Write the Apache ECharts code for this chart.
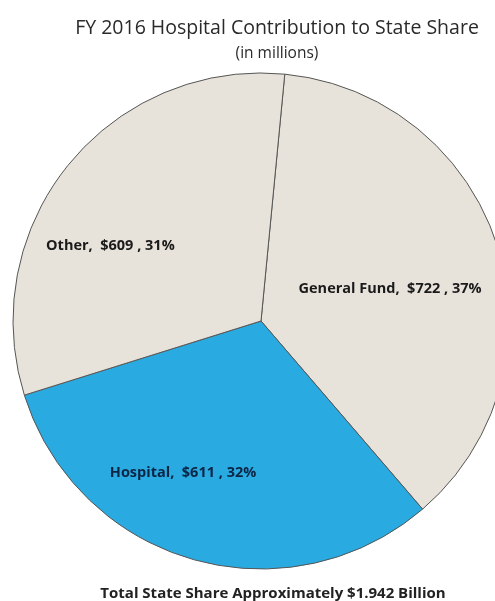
<!DOCTYPE html>
<html>
<head>
<meta charset="utf-8">
<script src="https://cdn.jsdelivr.net/npm/echarts@6/dist/echarts.min.js"></script>
<style>
  html, body { margin: 0; padding: 0; background: #fff; }
  #chart { width: 495px; height: 601px; }
</style>
</head>
<body>
<div id="chart"></div>
<script>
  // values in millions
  let names = ['General Fund', 'Hospital', 'Other']
  let values = [722, 611, 609]
  let percents = [37, 32, 31]
  let colors = ['#e7e3da', '#29abe2', '#e7e3da']
  let labelColors = ['#1a1a1a', '#0b2545', '#1a1a1a']
  let labelOffsets = [[8, 6], [-43, 30], [-52, 5]]

  let chart = echarts.init(document.getElementById('chart'))

  let seriesData = []
  names.forEach((n, i) => {
    seriesData.push({
      name: n,
      value: values[i],
      itemStyle: { color: colors[i] },
      label: {
        color: labelColors[i],
        offset: labelOffsets[i]
      }
    })
  })

  let option = {
    animation: false,
    title: [
      {
        text: 'FY 2016 Hospital Contribution to State Share',
        left: 272,
        top: 13,
        textAlign: 'center',
        textStyle: { fontFamily: 'Open Sans', fontSize: 19.5, fontWeight: 'normal', color: '#2a2a2a' }
      },
      {
        text: '(in millions)',
        left: 272,
        top: 41,
        textAlign: 'center',
        textStyle: { fontFamily: 'Open Sans', fontSize: 15.5, fontWeight: 'normal', color: '#2a2a2a' }
      },
      {
        text: 'Total State Share Approximately $1.942 Billion',
        left: 268,
        top: 581,
        textAlign: 'center',
        textStyle: { fontFamily: 'Open Sans', fontSize: 15, fontWeight: 'bold', color: '#222' }
      }
    ],
    series: [{
      type: 'pie',
      center: [261, 321],
      radius: 248,
      startAngle: 84.5,
      clockwise: true,
      avoidLabelOverlap: false,
      itemStyle: { borderColor: '#555', borderWidth: 1 },
      label: {
        show: true,
        position: 'inside',
        fontFamily: 'Open Sans',
        fontSize: 14.5,
        fontWeight: 'bold',
        formatter: p => p.name + ',  $' + p.value + ' , ' + percents[p.dataIndex] + '%'
      },
      labelLine: { show: false },
      emphasis: { disabled: true },
      data: seriesData
    }]
  }
  chart.setOption(option)
</script>
</body>
</html>
